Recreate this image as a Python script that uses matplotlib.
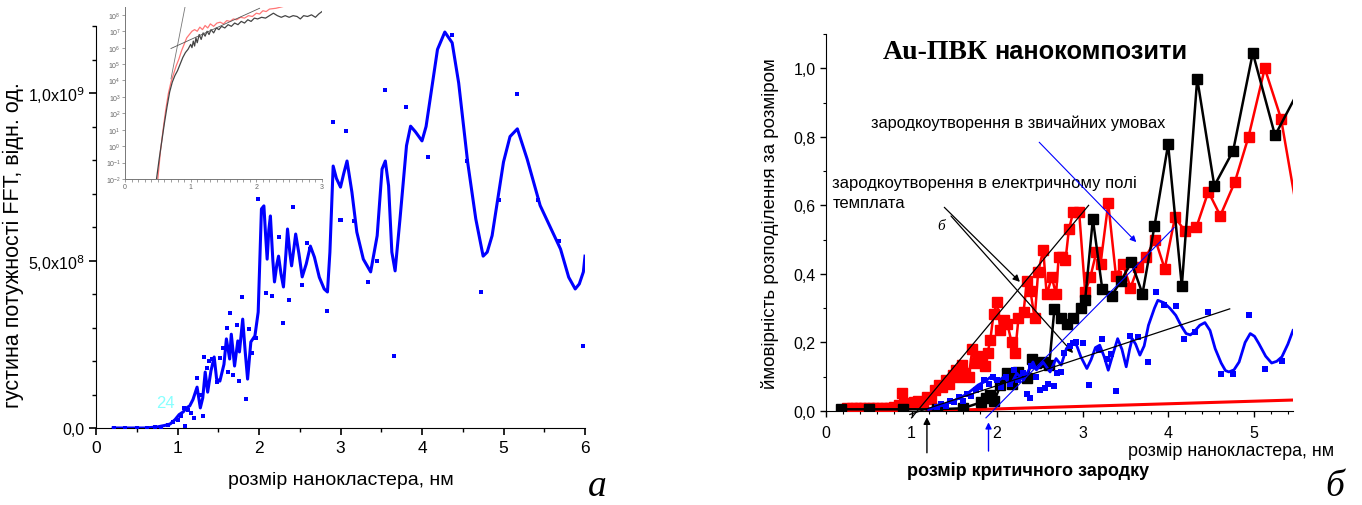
import numpy as np
import matplotlib
matplotlib.use("Agg")
import matplotlib.pyplot as plt
from matplotlib.ticker import MultipleLocator, FixedLocator

plt.rcParams['font.family'] = ['Liberation Sans', 'DejaVu Sans']
NARROW = ['Liberation Sans Narrow', 'Liberation Sans', 'DejaVu Sans']
SERIF = ['Liberation Serif', 'DejaVu Serif']

# ---------------- panel a: FFT power density ----------------
fft_curve_x = [0.21, 0.40, 0.60, 0.75, 0.85, 0.91, 0.97, 1.02, 1.07, 1.11, 1.15, 1.19, 1.24,
               1.28, 1.31, 1.34, 1.37, 1.41, 1.45, 1.48, 1.52, 1.54, 1.57, 1.60, 1.64, 1.66,
               1.70, 1.74, 1.76, 1.80, 1.83, 1.86, 1.90, 1.95, 1.99, 2.01, 2.03, 2.06, 2.08,
               2.10, 2.12, 2.14, 2.17, 2.19, 2.22, 2.24, 2.27, 2.30, 2.33, 2.35, 2.38, 2.40,
               2.43, 2.45, 2.49, 2.53, 2.58, 2.63, 2.68, 2.74, 2.80, 2.84, 2.87, 2.91, 2.95,
               3.00, 3.04, 3.08, 3.14, 3.20, 3.28, 3.37, 3.45, 3.51, 3.55, 3.59, 3.63, 3.67,
               3.73, 3.81, 3.86, 3.92, 4.00, 4.05, 4.10, 4.19, 4.28, 4.37, 4.45, 4.56, 4.66,
               4.75, 4.80, 4.86, 5.00, 5.08, 5.17, 5.29, 5.45, 5.70, 5.80, 5.88, 5.93, 5.98, 6.00]
fft_curve_y = [0.0, 0.0, 0.0, 0.03, 0.08, 0.12, 0.25, 0.40, 0.48, 0.60, 0.66, 0.85, 1.22,
               0.60, 0.90, 1.67, 1.07, 1.70, 2.12, 1.46, 1.40, 1.60, 1.90, 2.66, 2.06, 2.80,
               1.85, 2.60, 2.27, 3.25, 2.30, 1.46, 2.57, 2.75, 3.46, 5.00, 6.54, 6.63, 5.80,
               5.04, 5.90, 6.33, 5.00, 4.36, 4.90, 5.13, 4.60, 4.21, 5.20, 5.94, 5.20, 4.84,
               5.40, 5.79, 5.20, 4.51, 4.90, 5.43, 5.10, 4.50, 4.15, 4.06, 5.25, 7.82, 7.45,
               7.19, 7.60, 7.97, 7.04, 5.85, 5.04, 4.66, 5.74, 7.73, 7.97, 7.23, 5.25, 4.69,
               6.24, 8.43, 9.01, 8.84, 8.57, 9.00, 9.82, 11.30, 11.82, 11.50, 10.30, 7.94, 6.24,
               5.13, 5.25, 5.74, 7.94, 8.70, 8.93, 8.03, 6.64, 5.34, 4.50, 4.15, 4.30, 4.66, 5.13]

fft_pts_x = [0.22, 0.35, 0.50, 0.62, 0.72, 0.80, 0.88, 0.95, 1.00, 1.04, 1.08, 1.09, 1.13,
             1.17, 1.20, 1.24, 1.27, 1.31, 1.33, 1.36, 1.39, 1.42, 1.49, 1.52, 1.56, 1.61,
             1.62, 1.65, 1.68, 1.73, 1.76, 1.79, 1.84, 1.88, 1.92, 1.96, 1.99, 2.08, 2.16,
             2.24, 2.29, 2.37, 2.42, 2.53, 2.59, 2.63, 2.84, 2.91, 2.99, 3.00, 3.07, 3.16,
             3.34, 3.45, 3.55, 3.66, 3.80, 4.07, 4.37, 4.55, 4.73, 4.94, 5.16, 5.42, 5.68, 5.97]
fft_pts_y = [0.0, 0.0, 0.0, 0.0, 0.02, 0.04, 0.10, 0.18, 0.25, 0.35, 0.60, 0.06, 0.55,
             0.45, 0.30, 1.49, 1.00, 0.36, 2.12, 1.80, 2.00, 2.05, 1.37, 2.10, 2.39, 3.00,
             1.67, 3.43, 1.58, 3.07, 1.40, 3.91, 0.87, 2.95, 2.24, 2.70, 6.84, 4.03, 3.94,
             5.70, 3.13, 3.82, 6.60, 4.27, 5.52, 5.35, 3.49, 9.13, 6.20, 6.20, 8.87, 6.18,
             4.36, 4.99, 10.09, 2.15, 9.58, 8.09, 11.73, 7.97, 4.06, 6.80, 9.97, 6.80, 5.58, 2.45]

# inset: log-scale power spectra (x, log10 of value)
ins_black_x = [0.48, 0.52, 0.56, 0.60, 0.64, 0.68, 0.72, 0.76, 0.80, 0.84, 0.88, 0.92, 0.96,
               1.00, 1.02, 1.04, 1.06, 1.08, 1.10, 1.13, 1.16, 1.19, 1.22, 1.25, 1.28, 1.31,
               1.35, 1.39, 1.43, 1.47, 1.52, 1.57, 1.62, 1.67, 1.72, 1.77, 1.82, 1.87, 1.92,
               1.97, 2.02, 2.08, 2.14, 2.20, 2.26, 2.32, 2.38, 2.44, 2.50, 2.56, 2.62, 2.67,
               2.72, 2.78, 2.84, 2.90, 2.95, 3.00]
ins_black_lg = [-2.0, -0.8, 0.3, 1.4, 2.4, 3.3, 3.9, 4.3, 4.6, 5.0, 5.4, 5.7, 5.9,
                6.2, 6.0, 6.4, 6.1, 6.6, 6.3, 6.8, 6.5, 6.9, 6.7, 7.0, 6.8, 7.1,
                6.9, 7.2, 7.1, 7.3, 7.2, 7.4, 7.3, 7.5, 7.4, 7.6, 7.5, 7.7, 7.6,
                7.8, 7.75, 7.85, 7.8, 7.95, 8.1, 7.95, 7.85, 7.95, 7.85, 7.95, 7.9, 7.75,
                7.95, 7.9, 8.0, 7.85, 8.05, 8.2]
ins_red_x = [0.50, 0.54, 0.58, 0.62, 0.66, 0.70, 0.74, 0.78, 0.82, 0.86, 0.90, 0.94, 0.98,
             1.02, 1.06, 1.10, 1.14, 1.18, 1.22, 1.26, 1.30, 1.35, 1.40, 1.45, 1.50, 1.55,
             1.60, 1.65, 1.70, 1.76, 1.82, 1.88, 1.94, 2.00, 2.05, 2.10, 2.15, 2.20, 2.30, 2.40]
ins_red_lg = [-2.0, -0.3, 1.0, 2.2, 3.2, 3.9, 4.4, 4.9, 5.3, 5.8, 6.2, 6.6, 6.8,
              7.0, 7.1, 7.0, 7.25, 7.1, 7.35, 7.2, 7.45, 7.3, 7.5, 7.55, 7.45, 7.65,
              7.6, 7.75, 7.7, 7.85, 7.8, 7.95, 7.9, 8.1, 8.05, 8.25, 8.2, 8.35, 8.4, 8.5]
ins_tan_steep = ([0.70, 0.92], [4.1, 8.6])
ins_tan_flat = ([0.70, 2.05], [5.95, 8.4])

# ---------------- panel b: size distribution ----------------
red_x = [0.25, 0.30, 0.35, 0.40, 0.45, 0.50, 0.55, 0.60, 0.65, 0.70, 0.75, 0.80, 0.85,
         0.89, 0.93, 0.98, 1.03, 1.08, 1.13, 1.18, 1.23, 1.28, 1.32, 1.36, 1.40, 1.44,
         1.48, 1.52, 1.56, 1.59, 1.63, 1.67, 1.71, 1.74, 1.78, 1.82, 1.86, 1.89, 1.92,
         1.96, 2.00, 2.04, 2.08, 2.12, 2.17, 2.21, 2.25, 2.31, 2.35, 2.39, 2.44, 2.48,
         2.54, 2.58, 2.64, 2.69, 2.72, 2.76, 2.80, 2.84, 2.89, 2.96, 3.03, 3.09, 3.16,
         3.21, 3.30, 3.39, 3.47, 3.56, 3.65, 3.74, 3.85, 3.96, 4.08, 4.20, 4.33, 4.47,
         4.61, 4.78, 4.94, 5.13, 5.32, 5.60]
red_y = [0.008, 0.008, 0.008, 0.008, 0.008, 0.008, 0.008, 0.008, 0.008, 0.008, 0.010, 0.012, 0.017,
         0.053, 0.020, 0.022, 0.025, 0.030, 0.027, 0.040, 0.035, 0.060, 0.076, 0.070, 0.090, 0.080,
         0.105, 0.120, 0.100, 0.134, 0.110, 0.100, 0.180, 0.140, 0.160, 0.150, 0.130, 0.170, 0.206,
         0.284, 0.318, 0.235, 0.265, 0.255, 0.200, 0.168, 0.270, 0.290, 0.380, 0.350, 0.270, 0.405,
         0.470, 0.340, 0.390, 0.340, 0.450, 0.450, 0.440, 0.530, 0.580, 0.580, 0.347, 0.390, 0.463,
         0.430, 0.606, 0.395, 0.430, 0.360, 0.420, 0.450, 0.500, 0.415, 0.565, 0.524, 0.536, 0.640,
         0.570, 0.668, 0.800, 1.000, 0.853, 0.450]

black_x = [0.18, 0.50, 0.90, 1.30, 1.60, 1.81, 1.87, 1.92, 1.97, 2.04, 2.12, 2.17, 2.24,
           2.35, 2.41, 2.46, 2.54, 2.61, 2.67, 2.75, 2.82, 2.89, 2.98, 3.03, 3.12, 3.23,
           3.34, 3.45, 3.57, 3.70, 3.84, 4.00, 4.16, 4.34, 4.54, 4.76, 4.99, 5.25, 5.60]
black_y = [0.005, 0.005, 0.005, 0.005, 0.008, 0.025, 0.037, 0.046, 0.030, 0.076, 0.110, 0.080, 0.114,
           0.095, 0.153, 0.139, 0.143, 0.134, 0.297, 0.270, 0.255, 0.270, 0.300, 0.325, 0.560, 0.356,
           0.337, 0.380, 0.435, 0.342, 0.539, 0.778, 0.364, 0.970, 0.657, 0.759, 1.045, 0.804, 0.970]

blue_curve_x = [1.20, 1.28, 1.36, 1.44, 1.51, 1.57, 1.63, 1.70, 1.78, 1.85, 1.93, 2.00, 2.08,
                2.16, 2.23, 2.31, 2.39, 2.42, 2.46, 2.54, 2.62, 2.69, 2.75, 2.81, 2.87, 2.93,
                2.98, 3.05, 3.10, 3.15, 3.20, 3.25, 3.30, 3.36, 3.41, 3.46, 3.51, 3.55, 3.58,
                3.62, 3.67, 3.72, 3.77, 3.84, 3.88, 3.95, 4.02, 4.09, 4.15, 4.21, 4.26, 4.30,
                4.37, 4.43, 4.49, 4.55, 4.62, 4.67, 4.71, 4.77, 4.83, 4.90, 4.96, 5.01, 5.06,
                5.14, 5.21, 5.27, 5.33, 5.40, 5.46]
blue_curve_y = [0.005, 0.010, 0.017, 0.025, 0.032, 0.040, 0.047, 0.060, 0.076, 0.085, 0.100, 0.085, 0.100,
                0.076, 0.110, 0.090, 0.129, 0.143, 0.120, 0.142, 0.114, 0.153, 0.134, 0.182, 0.197, 0.192,
                0.158, 0.124, 0.150, 0.185, 0.192, 0.160, 0.119, 0.170, 0.211, 0.180, 0.129, 0.180, 0.211,
                0.195, 0.163, 0.190, 0.250, 0.300, 0.323, 0.316, 0.300, 0.279, 0.250, 0.226, 0.222, 0.230,
                0.250, 0.258, 0.235, 0.182, 0.140, 0.118, 0.114, 0.120, 0.143, 0.200, 0.226, 0.218, 0.197,
                0.160, 0.140, 0.145, 0.158, 0.195, 0.235]

blue_pts_x = [1.30, 1.35, 1.40, 1.45, 1.50, 1.55, 1.60, 1.65, 1.70, 1.75, 1.80, 1.85, 1.90,
              1.95, 2.00, 2.05, 2.10, 2.15, 2.20, 2.25, 2.30, 2.35, 2.38, 2.40, 2.45, 2.50,
              2.56, 2.60, 2.67, 2.70, 2.75, 2.78, 2.85, 2.89, 2.92, 3.00, 3.07, 3.19, 3.23,
              3.28, 3.33, 3.39, 3.56, 3.65, 3.77, 3.86, 3.95, 4.09, 4.19, 4.32, 4.47, 4.62,
              4.76, 4.94, 5.13, 5.33]
blue_pts_y = [0.012, 0.020, 0.015, 0.030, 0.025, 0.040, 0.030, 0.050, 0.045, 0.060, 0.070, 0.090, 0.080,
              0.100, 0.090, 0.070, 0.100, 0.080, 0.120, 0.090, 0.110, 0.050, 0.037, 0.130, 0.100, 0.060,
              0.066, 0.080, 0.073, 0.110, 0.114, 0.170, 0.190, 0.197, 0.200, 0.197, 0.077, 0.177, 0.211,
              0.151, 0.167, 0.058, 0.220, 0.216, 0.143, 0.347, 0.308, 0.306, 0.211, 0.230, 0.288, 0.107,
              0.107, 0.280, 0.124, 0.145]

tangent_red = ([1.00, 3.07], [-0.02, 0.60])
tangent_blue_pts = ([0.98, 4.72], [-0.01, 0.298])
tangent_black = ([1.87, 4.07], [-0.02, 0.535])
red_baseline = ([1.18, 5.46], [0.0, 0.032])

fig = plt.figure(figsize=(13.62, 5.06), dpi=100)

# ----- panel a -----
ax1 = fig.add_axes([96 / 1362, 77 / 506, 489 / 1362, 402 / 506])
ax1.plot(fft_curve_x, np.array(fft_curve_y) * 1e8, color='#0000ff', lw=2.2, zorder=3,
         solid_joinstyle='round')
ax1.plot(fft_pts_x, np.array(fft_pts_y) * 1e8, 's', color='#0000ff', ms=2.2, mew=0, zorder=4)
ax1.set_xlim(0, 6)
ax1.set_ylim(0, 1.2e9)
ax1.spines['top'].set_visible(False)
ax1.spines['right'].set_visible(False)
ax1.xaxis.set_major_locator(MultipleLocator(1))
ax1.xaxis.set_minor_locator(MultipleLocator(0.5))
ax1.yaxis.set_major_locator(FixedLocator([0, 5e8, 1e9]))
ax1.yaxis.set_minor_locator(MultipleLocator(1e8))
ax1.set_yticklabels(['0,0', '5,0x10$^8$', '1,0x10$^9$'])
ax1.tick_params(which='major', direction='out', length=5, width=1.2, labelsize=12.5)
ax1.tick_params(axis='y', which='major', labelsize=11.5)
ax1.tick_params(which='minor', direction='out', length=3, width=1.0)
ax1.set_xlabel('розмір нанокластера, нм', fontsize=14, labelpad=12)
ax1.set_ylabel('густина потужності FFT, відн. од.', fontsize=15.5)
ax1.yaxis.set_label_coords(-0.147, 0.458)
ax1.text(0.85, 0.63e8, '24', color='#88ffff', fontsize=12, ha='center')

# inset
ins = fig.add_axes([125 / 1362, 326 / 506, 197 / 1362, 172 / 506])
ins.semilogy(ins_red_x, 10 ** np.array(ins_red_lg), color='#ff5555', lw=0.9, alpha=0.8)
ins.semilogy(ins_black_x, 10 ** np.array(ins_black_lg), color='#444444', lw=0.9)
ins.semilogy(ins_tan_steep[0], 10 ** np.array(ins_tan_steep[1]), color='#777777', lw=0.6)
ins.semilogy(ins_tan_flat[0], 10 ** np.array(ins_tan_flat[1]), color='#555555', lw=0.6)
ins.set_xlim(0, 3)
ins.set_ylim(1e-2, 3e8)
ins.patch.set_alpha(0)
for s in ['top', 'right']:
    ins.spines[s].set_visible(False)
for s in ['left', 'bottom']:
    ins.spines[s].set_color('#777777')
    ins.spines[s].set_linewidth(0.7)
ins.xaxis.set_major_locator(MultipleLocator(1))
ins.xaxis.set_minor_locator(MultipleLocator(0.1))
ins.yaxis.set_major_locator(FixedLocator([10.0 ** k for k in range(-2, 9)]))
ins.yaxis.set_minor_locator(FixedLocator([]))
ins.tick_params(which='both', colors='#777777', labelcolor='#666666', labelsize=5,
                length=2, width=0.5, pad=1)

# ----- panel b -----
ax2 = fig.add_axes([826 / 1362, 94 / 506, 467 / 1362, 377 / 506])
ax2.plot(red_baseline[0], red_baseline[1], color='#ff0000', lw=2.2, zorder=2)
ax2.plot(red_x, red_y, '-s', color='#ff0000', lw=1.8, ms=6.5, zorder=3)
ax2.plot(black_x, black_y, '-s', color='#000000', lw=1.8, ms=6.5, zorder=4)
ax2.plot(blue_curve_x, blue_curve_y, color='#0000ff', lw=2.0, zorder=5, solid_joinstyle='round')
ax2.plot(blue_pts_x, blue_pts_y, 's', color='#0000ff', ms=3.8, mew=0, zorder=5)
ax2.plot(tangent_red[0], tangent_red[1], color='black', lw=0.9, zorder=6, clip_on=False)
ax2.plot(tangent_blue_pts[0], tangent_blue_pts[1], color='black', lw=0.9, zorder=6, clip_on=False)
ax2.plot(tangent_black[0], tangent_black[1], color='#0000ff', lw=0.8, zorder=6, clip_on=False)
ax2.set_xlim(0, 5.46)
ax2.set_ylim(0, 1.1)
ax2.spines['top'].set_visible(False)
ax2.spines['right'].set_visible(False)
ax2.xaxis.set_minor_locator(MultipleLocator(0.2))
ax2.yaxis.set_minor_locator(MultipleLocator(0.1))
ax2.set_yticks([0, 0.2, 0.4, 0.6, 0.8, 1.0])
ax2.set_yticklabels(['0,0', '0,2', '0,4', '0,6', '0,8', '1,0'], family=NARROW)
ax2.set_xticks([0, 1, 2, 3, 4, 5])
ax2.set_xticklabels(['0', '1', '2', '3', '4', '5'], family=NARROW)
ax2.tick_params(which='major', direction='out', length=4, width=1.0, labelsize=11.5)
ax2.tick_params(axis='x', which='major', pad=6)
ax2.tick_params(which='minor', direction='out', length=2.5, width=0.8)
ax2.set_ylabel('ймовірність розподілення за розміром', fontsize=13.5, family=NARROW, labelpad=10)

ax2.text(0.66, 1.05, 'Au-ПВК', family=SERIF, fontsize=20, fontweight='bold', va='center')
ax2.text(1.97, 1.05, 'нанокомпозити', family=NARROW, fontsize=18.3, fontweight='bold', va='center')
ax2.text(0.53, 0.843, 'зародкоутворення в звичайних умовах', family=NARROW, fontsize=11.8, va='center')
ax2.text(0.075, 0.69, 'зародкоутворення в електричному полі\nтемплата', family=NARROW,
         fontsize=12, va='top', linespacing=1.45)
ax2.text(1.30, 0.54, 'б', family=SERIF, style='italic', fontsize=11, va='center')

arrow_kw = dict(arrowstyle='-|>', color='black', lw=0.9, mutation_scale=10)
ax2.annotate('', xy=(2.29, 0.371), xytext=(1.36, 0.60), arrowprops=arrow_kw)
ax2.annotate('', xy=(2.91, 0.163), xytext=(1.44, 0.575), arrowprops=arrow_kw)
ax2.annotate('', xy=(3.65, 0.487), xytext=(2.47, 0.79),
             arrowprops=dict(arrowstyle='-|>', color='#0000ff', lw=0.8, mutation_scale=9))
ax2.annotate('', xy=(1.18, -0.01), xytext=(1.18, -0.13), annotation_clip=False,
             arrowprops=dict(arrowstyle='-|>', color='black', lw=1.0, mutation_scale=10))
ax2.annotate('', xy=(1.90, -0.025), xytext=(1.90, -0.125), annotation_clip=False,
             arrowprops=dict(arrowstyle='-|>', color='#0000ff', lw=1.0, mutation_scale=9))

fig.text(1231 / 1362, 1 - 452 / 506, 'розмір нанокластера, нм', family=NARROW, fontsize=12.9,
         ha='center', va='center')
fig.text(1028 / 1362, 1 - 471 / 506, 'розмір критичного зародку', family=NARROW, fontsize=13,
         fontweight='bold', ha='center', va='center')

fig.text(597 / 1362, 1 - 487 / 506, 'а', family=SERIF, style='italic', fontsize=27,
         ha='center', va='center')
fig.text(1335 / 1362, 1 - 487 / 506, 'б', family=SERIF, style='italic', fontsize=27,
         ha='center', va='center')

fig.savefig('out.png', dpi=100)
